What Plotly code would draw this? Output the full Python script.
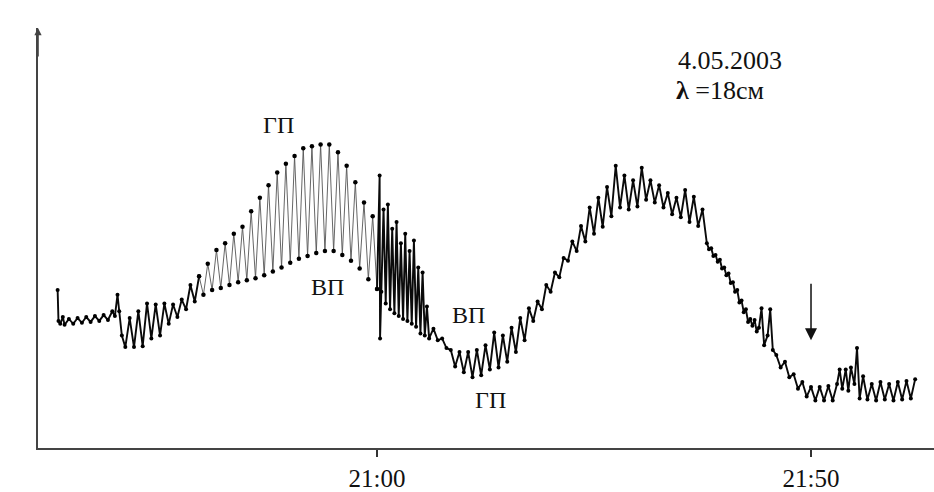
import plotly.graph_objects as go

# time in minutes relative to 21:00, signal Pc in relative units
t_min = [-36.8, -36.7, -36.5, -36.2, -36, -35.5, -35, -34.5, -34, -33.5, -33, -32.5, -32, -31.5, -31,
         -30.5, -30.2, -29.9, -29.7, -29.4, -29, -28.5, -28, -27.5, -27, -26.5, -26, -25.5, -25, -24.5,
         -24, -23.5, -23, -22.5, -22, -21.5, -21, -20.5, -20, -19.5, -19, -18.5, -18, -17.5, -17, -16.5,
         -16, -15.5, -15, -14.5, -14, -13.5, -13, -12.5, -12, -11.5, -11, -10.5, -10, -9.5, -9, -8.5,
         -8, -7.5, -7, -6.5, -6, -5.5, -5, -4.5, -4, -3.5, -3, -2.5, -2, -1.5, -1, -0.5, 0, 0.3, 0.35,
         0.5, 0.75, 1, 1.25, 1.5, 1.75, 2, 2.25, 2.5, 2.75, 3, 3.25, 3.5, 3.75, 4, 4.25, 4.5, 4.75, 5,
         5.25, 5.5, 5.75, 6, 6.5, 7, 7.5, 8, 8.5, 9, 9.5, 10, 10.5, 11, 11.5, 12, 12.5, 13, 13.5, 14,
         14.5, 15, 15.5, 16, 16.5, 17, 17.5, 18, 18.5, 19, 19.5, 20, 20.5, 21, 21.5, 22, 22.5, 23, 23.5,
         24, 24.5, 25, 25.5, 26, 26.5, 27, 27.5, 28, 28.5, 29, 29.5, 30, 30.5, 31, 31.5, 32, 32.5, 33,
         33.5, 34, 34.5, 35, 35.5, 36, 36.5, 37, 37.5,
         38, 38.25, 38.5, 38.75, 39, 39.25, 39.5, 39.75, 40, 40.25, 40.5, 40.75, 41, 41.25, 41.5, 41.75,
         42, 42.25, 42.5, 42.75, 43, 43.25, 43.5, 43.75, 44, 44.3, 44.6, 45, 45.3, 45.6, 46, 46.5, 47,
         47.5, 48, 48.5, 49, 49.5, 50, 50.5, 51,
         51.5, 52, 52.5, 53, 53.3, 53.6, 54, 54.3, 54.6, 55, 55.3, 55.6, 56, 56.5, 57, 57.5, 58, 58.5,
         59, 59.5, 60, 60.5, 61, 61.5, 62]
pc = [163, 131, 128, 135, 127, 133, 128, 134, 129, 135, 130, 136, 131, 137, 132,
      141, 136, 158, 141, 116, 104, 134, 104, 141, 105, 149, 113, 148, 116, 149,
      128, 148, 135, 153, 143, 168, 151, 177, 158, 190, 163, 204, 165, 211, 168, 221,
      171, 228, 173, 244, 175, 258, 178, 271, 182, 284, 186, 293, 191, 301, 195, 309,
      198, 311, 201, 313, 203, 313, 203, 305, 199, 291, 193, 274, 185, 253, 174, 239, 164, 281, 113,
      161, 246, 149, 251, 143, 226, 139, 233, 136, 211, 133, 221, 131, 203, 128, 214, 125, 186, 118,
      181, 116, 146, 113, 123, 111, 113, 103, 101, 84, 99, 78, 99, 73, 101, 75, 106, 81, 119, 83,
      116, 89, 124, 99, 134, 111, 144, 131, 151, 143, 168, 161, 181, 176, 196, 193, 213, 203, 229,
      213, 248, 221, 258, 228, 269, 239, 291, 248, 281, 246, 276, 249, 289, 256, 276, 253, 271, 248,
      263, 241, 258, 238, 266, 233, 259, 229, 246,
      211, 205, 206, 198, 199, 192, 194, 185, 186, 178, 180, 170, 171, 161, 163, 150,
      152, 140, 143, 130, 133, 126, 132, 120, 124, 144, 106, 116, 143, 101, 96, 83, 89,
      73, 76, 61, 68, 53, 63, 49, 63,
      49, 64, 49, 66, 81, 61, 81, 59, 83, 66, 103, 51, 74, 50, 66, 49, 68, 50,
      66, 49, 68, 50, 69, 51, 71]

# time span of the fast, wide-swing part of the record (drawn with thinner strokes)
fast_span = [-20.5, 0.0]

tick_vals = [0, 50]
tick_text = ["21:00", "21:50"]

serif = "Liberation Serif"

in_fast = [fast_span[0] <= t <= fast_span[1] for t in t_min]
thick_y = [v if (not f or t in fast_span) else None for t, v, f in zip(t_min, pc, in_fast)]
thin_y = [v if f else None for v, f in zip(pc, in_fast)]

fig = go.Figure()
fig.add_trace(go.Scatter(
    x=t_min, y=thin_y, mode="lines+markers", connectgaps=False,
    line=dict(color="#555555", width=0.9),
    marker=dict(color="#000000", size=4.5),
    hoverinfo="skip", showlegend=False,
))
fig.add_trace(go.Scatter(
    x=t_min, y=thick_y, mode="lines+markers", connectgaps=False,
    line=dict(color="#0a0a0a", width=1.9),
    marker=dict(color="#000000", size=4),
    hoverinfo="skip", showlegend=False,
))

label_font = dict(family=serif, size=24, color="#111111")
annotations = [
    dict(x=-11.4, y=333, text="ГП", showarrow=False, font=label_font),
    dict(x=-5.65, y=166, text="ВП", showarrow=False, font=label_font),
    dict(x=10.5, y=137, text="ВП", showarrow=False, font=label_font),
    dict(x=13.1, y=50, text="ГП", showarrow=False, font=label_font),
    dict(x=34.4, y=399, text="4.05.2003", showarrow=False, xanchor="left",
         font=dict(family=serif, size=26, color="#111111")),
    dict(x=34.2, y=369, text="<b>λ</b> =18см", showarrow=False, xanchor="left",
         font=dict(family=serif, size=26, color="#111111")),
    # arrow marker near 21:50
    dict(x=50, y=111, ax=50, ay=171, xref="x", yref="y", axref="x", ayref="y",
         showarrow=True, arrowhead=2, arrowsize=1.6, arrowwidth=1.5, arrowcolor="#111111", text=""),
    # y-axis arrow
    dict(x=0, y=1.0, xref="paper", yref="paper", ax=0, ay=30, showarrow=True,
         arrowhead=2, arrowsize=0.9, arrowwidth=1.6, arrowcolor="#444444", text=""),
    # axis names
    dict(x=-40.9, y=437, text="P<span style='font-size:14px'>c</span>", showarrow=False,
         font=dict(family=serif, size=24, color="#111111")),
    dict(x=63.6, y=-15, text="t", showarrow=False,
         font=dict(family=serif, size=24, color="#111111")),
]

fig.update_layout(
    width=934, height=492,
    margin=dict(l=38, r=0, t=28, b=31),
    paper_bgcolor="white", plot_bgcolor="white",
    annotations=annotations,
    xaxis=dict(range=[-39.06, 64.17], showgrid=False, zeroline=False,
               showline=True, linecolor="#444444", linewidth=2,
               tickvals=tick_vals, ticktext=tick_text, ticks="outside",
               ticklen=7, tickwidth=1.5, tickcolor="#333333",
               tickfont=dict(family=serif, size=25, color="#111111")),
    yaxis=dict(range=[0, 433], showgrid=False, zeroline=False,
               showline=True, linecolor="#444444", linewidth=2,
               showticklabels=False, ticks=""),
)

fig.write_html("out.html")
